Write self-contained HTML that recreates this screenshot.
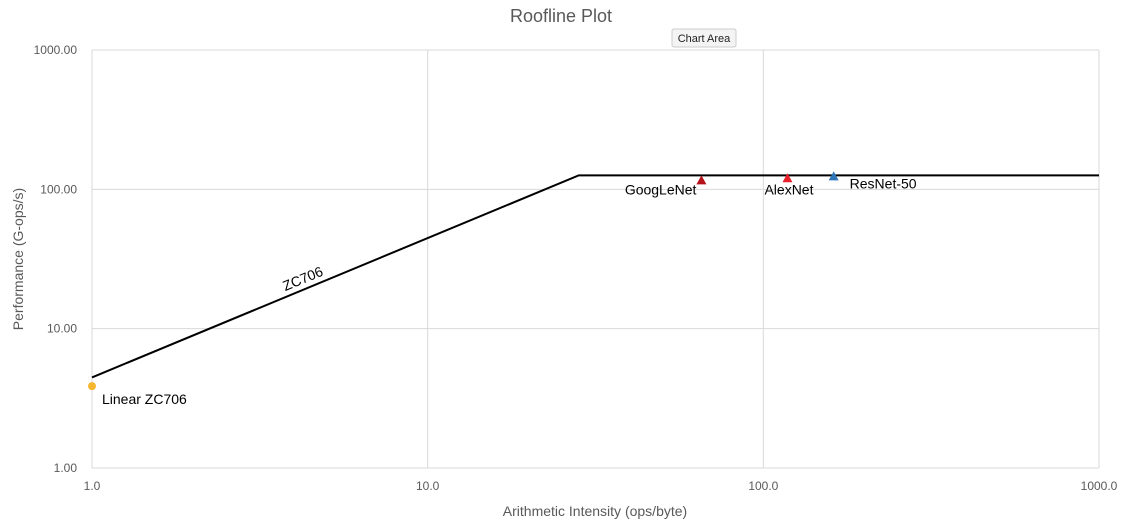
<!DOCTYPE html>
<html><head><meta charset="utf-8"><style>
body{margin:0;background:#fff;width:1126px;height:524px;overflow:hidden;font-family:"Liberation Sans",sans-serif}
</style></head><body>
<svg id="chart" width="1126" height="524" style="position:absolute;left:0;top:0">
<text x="561" y="22" text-anchor="middle" font-size="18" fill="#595959">Roofline Plot</text>
<g id="grid"></g><g id="marks"></g>
<text x="595" y="516" text-anchor="middle" font-size="14" fill="#595959">Arithmetic Intensity (ops/byte)</text>
<text transform="translate(23,259) rotate(-90)" text-anchor="middle" font-size="14" fill="#595959">Performance (G-ops/s)</text>
<g>
<rect x="672" y="29" width="64" height="18" fill="#f4f4f4" stroke="#ccc" rx="2"/>
<text x="704" y="42" text-anchor="middle" font-size="11" fill="#222">Chart Area</text></g>
</svg>
<script>
const xTicks=[1,10,100,1000];
const xTickLabels=["1.0","10.0","100.0","1000.0"];
const yTicks=[1,10,100,1000];
const yTickLabels=["1.00","10.00","100.00","1000.00"];
const rooflineX=[1,28.2,1000];
const rooflineY=[4.47,126,126];
const pointNames=["Linear ZC706","GoogLeNet","AlexNet","ResNet-50"];
const pointX=[1.0,65.4,118,162];
const pointY=[3.87,116,120,124];
const pointColors=["#f5b731","#b5121b","#e8202a","#2e75b6"];
const NS="http://www.w3.org/2000/svg";
const X0=92,X1=1099,Y0=468,Y1=50;
const sx=v=>X0+(Math.log10(v)-0)/3*(X1-X0);
const sy=v=>Y0-(Math.log10(v))/3*(Y0-Y1);
function mk(t,a,p){const e=document.createElementNS(NS,t);for(const k in a)e.setAttribute(k,a[k]);p.appendChild(e);return e;}
const g=document.getElementById('grid'),m=document.getElementById('marks');
xTicks.forEach((v,i)=>{
 const l=mk('line',{x1:sx(v),x2:sx(v),y1:Y1,y2:Y0,stroke:'#d9d9d9'},g);
 
 
 const t=mk('text',{x:sx(v),y:Y0+22,'text-anchor':'middle','font-size':12,fill:'#595959'},g);t.textContent=xTickLabels[i];
 
 
});
yTicks.forEach((v,i)=>{
 const l=mk('line',{x1:X0,x2:X1,y1:sy(v),y2:sy(v),stroke:'#d9d9d9'},g);
 
 
 const t=mk('text',{x:X0-15,y:sy(v)+4,'text-anchor':'end','font-size':12,fill:'#595959'},g);t.textContent=yTickLabels[i];
 
 
});
const pl=mk('polyline',{points:rooflineX.map((x,i)=>sx(x)+','+sy(rooflineY[i])).join(' '),fill:'none',stroke:'#000','stroke-width':2},m);


const ang=Math.atan2(sy(rooflineY[1])-sy(rooflineY[0]),sx(rooflineX[1])-sx(rooflineX[0]))*180/Math.PI;
const lx=sx(4.3),ly=sy(4.47*4.3)-6;
const rl=mk('text',{x:lx,y:ly,'font-size':14,fill:'#000','text-anchor':'middle',transform:`rotate(${ang} ${lx} ${ly})`},m);rl.textContent='ZC706';


const offs=[[10,18,'start'],[-5,14,'end'],[-23,16,'start'],[16,12,'start']];
pointNames.forEach((n,i)=>{
 const x=sx(pointX[i]),y=sy(pointY[i]);
 let e;
 if(i===0)e=mk('circle',{cx:x,cy:y,r:4,fill:pointColors[i]},m);
 else e=mk('polygon',{points:`${x},${y-5} ${x-5},${y+4} ${x+5},${y+4}`,fill:pointColors[i]},m);
 
 
 const t=mk('text',{x:x+offs[i][0],y:y+offs[i][1],'font-size':14,fill:'#000','text-anchor':offs[i][2]},m);t.textContent=n;
 
 
});
</script>
</body></html>
